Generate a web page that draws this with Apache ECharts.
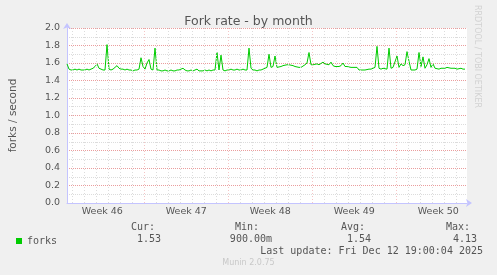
<!DOCTYPE html>
<html>
<head>
<meta charset="utf-8">
<script src="https://cdn.jsdelivr.net/npm/echarts@6/dist/echarts.min.js"></script>
<style>
html,body{margin:0;padding:0;background:#f0f0f0;}
#c{width:497px;height:275px;}
</style>
</head>
<body>
<div id="c"></div>
<script>
// ---- data ----
// time in days since Mon 10 Nov 2025 00:00 (start of Week 46); one sample every 4 hours
const startDay = 0.558;
const stepDays = 1 / 6;
const viewStart = 0.558;
const viewEnd = 33.891;
const forks = [
  1.59,1.53,1.52,1.52,1.53,1.52,1.53,1.52,1.52,1.52,1.53,1.52,1.53,1.54,1.56,1.59,1.54,1.53,1.52,1.52,
  1.81,1.53,1.52,1.53,1.55,1.57,1.54,1.53,1.53,1.52,1.53,1.52,1.52,1.51,1.52,1.52,1.53,1.66,1.56,1.53,
  1.60,1.64,1.53,1.52,1.77,1.52,1.52,1.51,1.51,1.52,1.51,1.51,1.52,1.51,1.51,1.52,1.52,1.53,1.54,1.52,
  1.51,1.51,1.52,1.51,1.52,1.53,1.51,1.51,1.51,1.52,1.51,1.52,1.51,1.52,1.52,1.72,1.52,1.69,1.52,1.51,
  1.52,1.52,1.53,1.52,1.52,1.53,1.52,1.52,1.53,1.52,1.52,1.77,1.54,1.52,1.52,1.51,1.52,1.52,1.52,1.54,
  1.55,1.70,1.55,1.56,1.68,1.55,1.55,1.56,1.57,1.57,1.58,1.58,1.58,1.57,1.56,1.56,1.55,1.55,1.57,1.58,
  1.60,1.72,1.58,1.58,1.58,1.59,1.58,1.60,1.61,1.59,1.60,1.58,1.61,1.57,1.56,1.56,1.56,1.57,1.60,1.56,
  1.56,1.55,1.55,1.55,1.55,1.55,1.52,1.51,1.52,1.52,1.52,1.53,1.53,1.53,1.55,1.79,1.54,1.53,1.54,1.54,
  1.53,1.77,1.54,1.55,1.54,1.68,1.55,1.59,1.57,1.58,1.73,1.62,1.52,1.51,1.52,1.53,1.72,1.56,1.67,1.54,
  1.58,1.65,1.55,1.59,1.54,1.53,1.53,1.54,1.53,1.54,1.55,1.53,1.54,1.53,1.54,1.53,1.53,1.54,1.53,1.53
];
const weekStarts = [7, 14, 21, 28];
const dayLines = [1,2,3,4,5,6,8,9,10,11,12,13,15,16,17,18,19,20,22,23,24,25,26,27,29,30,31,32,33];
const weekLabelPos = [3.5, 10.5, 17.5, 24.5, 31.5];
const weekLabels = ['Week 46', 'Week 47', 'Week 48', 'Week 49', 'Week 50'];
const statLabels = ['Cur:', 'Min:', 'Avg:', 'Max:'];
const statValues = ['1.53', '900.00m', '1.54', '4.13'];
const seriesName = 'forks';
const titleText = 'Fork rate - by month';
const yName = 'forks / second';
const lastUpdate = 'Last update: Fri Dec 12 19:00:04 2025';
const footer = 'Munin 2.0.75';
const watermark = 'RRDTOOL / TOBI OETIKER';

// ---- chart ----
const chart = echarts.init(document.getElementById('c'), null, {renderer: 'canvas'});
const sans = 'DejaVu Sans';
const mono = 'DejaVu Sans Mono';
const lineData = forks.map((v, i) => [startDay + i * stepDays, v]);

const statLabelRight = [155, 259, 365, 470];
const statValueRight = [161, 272, 371, 477];
const graphics = [];
statLabels.forEach((t, i) => {
  graphics.push({type: 'text', right: 497 - statLabelRight[i], top: 222,
    style: {text: t, font: '10px ' + mono, fill: '#555'}});
  graphics.push({type: 'text', right: 497 - statValueRight[i], top: 234,
    style: {text: statValues[i], font: '10px ' + mono, fill: '#555'}});
});
graphics.push({type: 'text', right: 14, top: 246, style: {text: lastUpdate, font: '10px ' + mono, fill: '#555'}});
graphics.push({type: 'text', left: 'center', top: 259, style: {text: footer, font: '8px ' + sans, fill: '#c8c8c8'}});
graphics.push({type: 'text', x: 481, y: 5, rotation: -Math.PI / 2,
  style: {text: watermark, font: '8px ' + sans, fill: '#d2d2d2'}});

const minorColor = '#dcdcdc';
const majorColor = 'rgba(230,140,140,0.85)';
const majorColorV = 'rgba(235,150,150,0.55)';

chart.setOption({
  animation: false,
  backgroundColor: '#f0f0f0',
  title: {text: titleText, left: 'center', top: 10,
    textStyle: {fontFamily: sans, fontSize: 12.5, fontWeight: 'normal', color: '#555'}},
  legend: {left: 11, top: 231, icon: 'rect', itemWidth: 6, itemHeight: 6, itemGap: 5,
    textStyle: {fontFamily: mono, fontSize: 10, color: '#555', padding: [0,0,0,0]},
    data: [{name: seriesName, itemStyle: {color: '#00cc00'}}]},
  grid: {left: 67, right: 30, top: 28, bottom: 72, show: true, backgroundColor: '#ffffff', borderWidth: 0},
  xAxis: {type: 'value', min: viewStart, max: viewEnd,
    axisLine: {show: true, onZero: false, lineStyle: {color: '#c4c4ff', width: 1},
      symbol: ['none', 'arrow'], symbolSize: [6, 6], symbolOffset: [0, 5]},
    axisTick: {show: false},
    splitLine: {show: false},
    axisLabel: {customValues: weekLabelPos, formatter: v => weekLabels[weekLabelPos.indexOf(v)] || '',
      fontFamily: sans, fontSize: 9.5, color: '#555', margin: 4}},
  yAxis: {type: 'value', min: 0, max: 2, interval: 0.1,
    name: yName, nameLocation: 'middle', nameGap: 48, nameRotate: 90,
    nameTextStyle: {fontFamily: sans, fontSize: 10.5, color: '#555'},
    axisLine: {show: true, lineStyle: {color: '#c4c4ff', width: 1},
      symbol: ['none', 'arrow'], symbolSize: [6, 6], symbolOffset: [0, 5]},
    axisTick: {show: false},
    axisLabel: {fontFamily: sans, fontSize: 9.5, color: '#555', margin: 7,
      formatter: v => (Math.round(v * 10) % 2 === 0 ? v.toFixed(1) : '')},
    splitLine: {show: true, lineStyle: {color: [majorColor, minorColor], type: [1, 1], width: 1}}},
  graphic: graphics,
  series: [
    {type: 'line', data: [], silent: true,
      markLine: {silent: true, symbol: ['none', 'none'], label: {show: false},
        lineStyle: {color: minorColor, type: [1, 2], width: 1},
        data: dayLines.map(d => ({xAxis: d}))}},
    {type: 'line', data: [], silent: true,
      markLine: {silent: true, symbol: ['none', 'none'], label: {show: false},
        lineStyle: {color: majorColorV, type: [1, 2], width: 1},
        data: weekStarts.map(d => ({xAxis: d}))}},
    {name: seriesName, type: 'line', data: lineData, showSymbol: false, symbol: 'none',
      lineStyle: {color: '#00cc00', width: 1}, itemStyle: {color: '#00cc00'}}
  ]
});
</script>
</body>
</html>
